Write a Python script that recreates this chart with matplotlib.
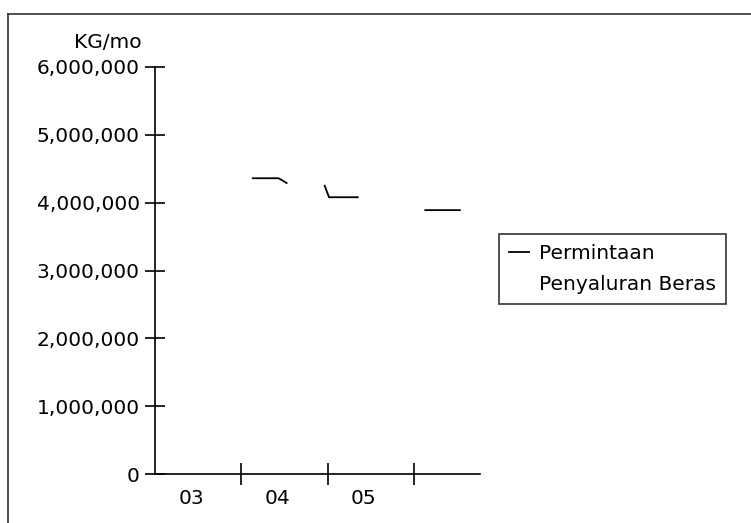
import matplotlib.pyplot as plt
from matplotlib.lines import Line2D
import numpy as np

# data (month index counted from Jan 2003), gaps in the scan left as nan
months = [13.6, 17.2, 18.3, np.nan, 23.6, 24.2, 28.2, np.nan, 37.6, 42.4]
permintaan = [4.36e6, 4.36e6, 4.29e6, np.nan, 4.25e6, 4.08e6, 4.08e6, np.nan, 3.89e6, 3.89e6]
penyaluran = [np.nan] * len(months)  # not readable on the scan

year_labels = ["03", "04", "05"]
year_ticks = [12, 24, 36]
y_ticks = [0, 1e6, 2e6, 3e6, 4e6, 5e6, 6e6]

FS = 14.5

fig = plt.figure(figsize=(7.51, 5.23), dpi=100)
ax = fig.add_axes([155 / 751, 49 / 523, 325 / 751, 407 / 523])

ax.plot(months, permintaan, color="black", lw=1.3, label="Permintaan")
ax.plot(months, penyaluran, color="none", lw=1.3, label="Penyaluran Beras")

ax.set_xlim(0, 45.2)
ax.set_ylim(0, 6e6)
for s in ["top", "right"]:
    ax.spines[s].set_visible(False)
for s in ["left", "bottom"]:
    ax.spines[s].set_linewidth(1.2)

ax.set_yticks(y_ticks)
ax.set_yticklabels([f"{int(v):,}" for v in y_ticks], fontsize=FS)
ax.tick_params(axis="y", direction="inout", length=14, width=1.2, pad=4)

ax.set_xticks(year_ticks)
ax.set_xticklabels([])
ax.tick_params(axis="x", direction="inout", length=16, width=1.2)
ax.set_xticks([t - 7 for t in year_ticks], minor=True)
ax.set_xticklabels(year_labels, minor=True, fontsize=FS)
ax.tick_params(axis="x", which="minor", length=0, pad=11)

fig.text(142 / 751, 1 - 43 / 523, "KG/mo", fontsize=FS, ha="right", va="center")

leg = fig.legend(loc="upper left", bbox_to_anchor=(499 / 751, 1 - 234 / 523),
                 fontsize=FS, frameon=True, fancybox=False, handlelength=1.0,
                 handletextpad=0.5, borderpad=0.5, labelspacing=0.6,
                 borderaxespad=0)
leg.get_frame().set_edgecolor("black")
leg.get_frame().set_linewidth(1.2)

# outer frame of the scanned figure
fig.add_artist(Line2D([8 / 751, 8 / 751], [0, 1 - 14 / 523], color="#333333", lw=1.2))
fig.add_artist(Line2D([8 / 751, 1], [1 - 14 / 523, 1 - 14 / 523], color="#333333", lw=1.2))

fig.savefig("out.png", dpi=100)
